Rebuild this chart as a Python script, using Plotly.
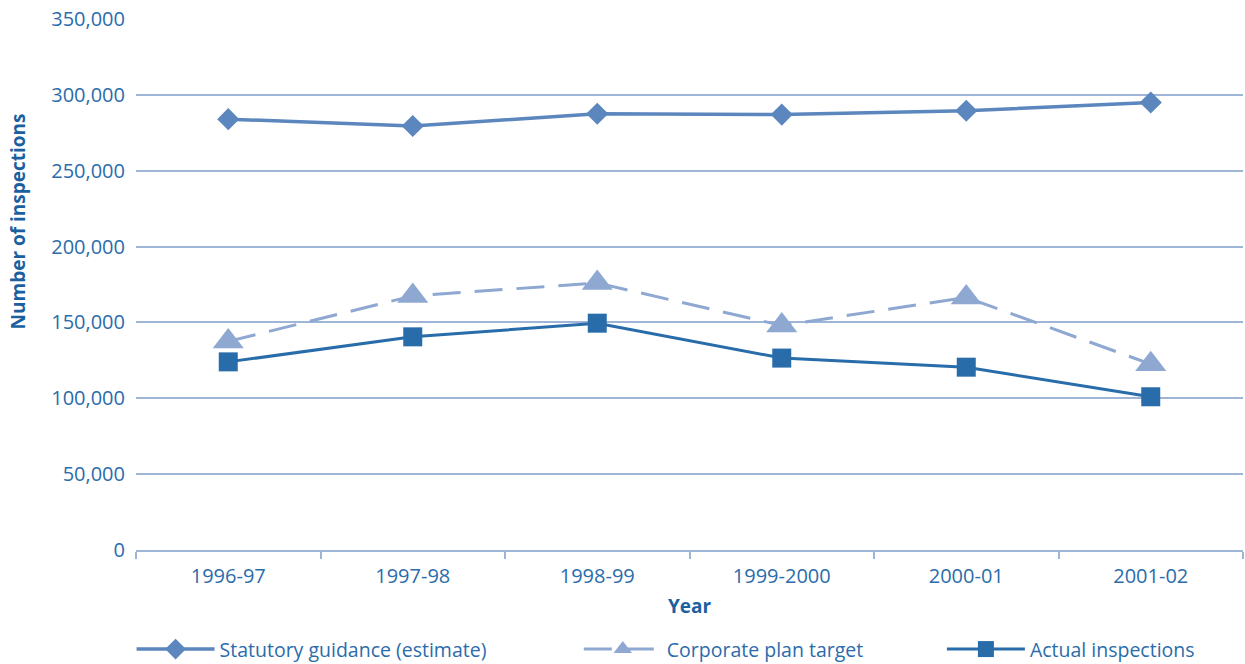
import plotly.graph_objects as go

years = ["1996-97", "1997-98", "1998-99", "1999-2000", "2000-01", "2001-02"]
statutory = [284000, 279500, 287500, 287000, 289500, 295000]
corporate = [137500, 167500, 176000, 148000, 166500, 122500]
actual = [124000, 140500, 149500, 126500, 120500, 101000]

FONT = "Open Sans"
TEXT = "#2b6cab"
TITLE = "#1c5f9f"
GRID = "#9fb5d8"

fig = go.Figure()
fig.add_trace(go.Scatter(
    x=years, y=statutory, name="Statutory guidance (estimate)",
    mode="lines+markers", legend="legend",
    line=dict(color="#5b86be", width=3.5),
    marker=dict(symbol="diamond", size=17, color="#5b86be"),
))
fig.add_trace(go.Scatter(
    x=years, y=corporate, name="Corporate plan target",
    mode="lines+markers", legend="legend2",
    line=dict(color="#8ea8d2", width=3, dash="28px,14px"),
    marker=dict(symbol="triangle-up", size=27, color="#8ea8d2"),
))
fig.add_trace(go.Scatter(
    x=years, y=actual, name="Actual inspections",
    mode="lines+markers", legend="legend3",
    line=dict(color="#286ca9", width=3),
    marker=dict(symbol="square", size=19, color="#286ca9"),
))

# legends sit in container coordinates so they don't shrink the plot area
legend_common = dict(
    orientation="h", yref="container", yanchor="middle", y=0.022, xanchor="left",
    font=dict(family=FONT, size=19.5, color=TEXT),
    bgcolor="rgba(0,0,0,0)", itemwidth=78, tracegroupgap=0,
)

fig.update_layout(
    width=1245, height=664,
    margin=dict(l=136, r=2, t=19, b=114),
    plot_bgcolor="white", paper_bgcolor="white",
    font=dict(family=FONT, size=20, color=TEXT),
    showlegend=True,
    legend=dict(x=-0.004, **legend_common),
    legend2=dict(x=0.400, **legend_common),
    legend3=dict(x=0.728, **legend_common),
    xaxis=dict(
        type="category", range=[-0.5, 5.5], automargin=False,
        showline=True, linecolor=GRID, linewidth=2,
        ticks="outside", tickson="boundaries", ticklen=7, tickcolor=GRID, tickwidth=2,
        showgrid=False, ticklabelstandoff=7,
        tickfont=dict(family=FONT, size=20, color=TEXT),
        title=dict(text="<b>Year</b>", font=dict(family=FONT, size=19, color=TITLE), standoff=12),
    ),
    yaxis=dict(
        range=[0, 350000], dtick=50000, tickformat=",", automargin=False,
        showgrid=True, gridcolor=GRID, gridwidth=1.5,
        zeroline=False, showline=False,
        ticklabelstandoff=10,
        tickfont=dict(family=FONT, size=20, color=TEXT),
    ),
    annotations=[dict(
        text="<b>Number of inspections</b>", textangle=-90,
        xref="paper", yref="paper", x=-0.107, y=0.618,
        xanchor="center", yanchor="middle", showarrow=False,
        font=dict(family=FONT, size=19, color=TITLE),
    )],
)

fig.write_html("out.html")
